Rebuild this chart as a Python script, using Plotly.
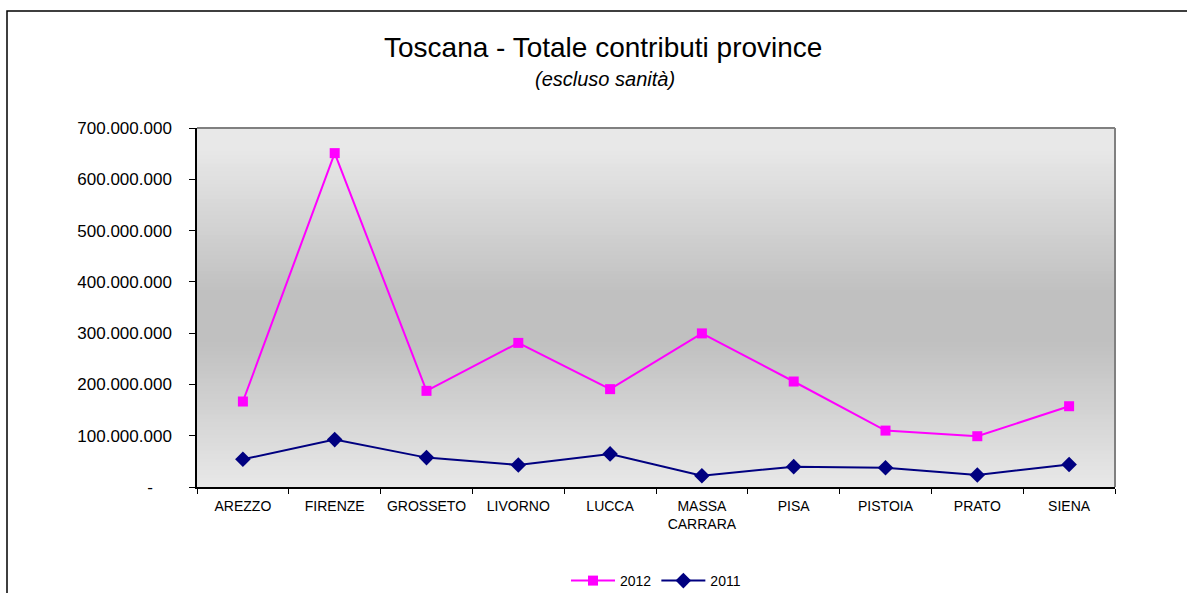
import plotly.graph_objects as go

provinces = ["AREZZO", "FIRENZE", "GROSSETO", "LIVORNO", "LUCCA",
             "MASSA<br>CARRARA", "PISA", "PISTOIA", "PRATO", "SIENA"]
values_2012 = [166.7e6, 651e6, 187.5e6, 281e6, 190.8e6, 299.5e6, 205.7e6, 110e6, 99e6, 157.5e6]
values_2011 = [54e6, 92.4e6, 57.3e6, 43e6, 64.5e6, 22e6, 39.7e6, 37.5e6, 23.5e6, 44e6]
y_tickvals = [0, 100e6, 200e6, 300e6, 400e6, 500e6, 600e6, 700e6]
y_ticktext = ["-" + "\u00a0" * 4, "100.000.000", "200.000.000", "300.000.000",
              "400.000.000", "500.000.000", "600.000.000", "700.000.000"]

FONT = "Liberation Sans, Arial, sans-serif"

fig = go.Figure()
fig.add_trace(go.Scatter(
    x=provinces, y=values_2012, name="2012", mode="lines+markers",
    line=dict(color="#FF00FF", width=2),
    marker=dict(symbol="square", size=10, color="#FF00FF"),
))
fig.add_trace(go.Scatter(
    x=provinces, y=values_2011, name="2011", mode="lines+markers",
    line=dict(color="#000080", width=2),
    marker=dict(symbol="diamond", size=12, color="#000080"),
))

# background gradient stripes (light - dark - light)
shapes = []
N = 90
for i in range(N):
    t0 = i / N
    t1 = (i + 1) / N
    t = (t0 + t1) / 2  # 0 = top, 1 = bottom
    d = abs(t - 0.53)
    f = max(0.0, d - 0.07) / 0.40
    f = min(1.0, f)
    c = int(round(192 + 40 * f))
    col = f"rgb({c},{c},{c})"
    shapes.append(dict(type="rect", xref="x domain", yref="y domain",
                       x0=0, x1=1, y0=1 - t1, y1=1 - t0 + 0.002,
                       fillcolor=col, line=dict(width=0), layer="below"))
# frame top and right in gray
shapes.append(dict(type="line", xref="x domain", yref="y domain",
                   x0=0, x1=1, y0=1, y1=1, line=dict(color="#808080", width=2)))
shapes.append(dict(type="line", xref="x domain", yref="y domain",
                   x0=1, x1=1, y0=0, y1=1, line=dict(color="#808080", width=2)))
# outer chart border
L, R, T, B = 197, 1115, 128, 487
W, H = 1187, 593
shapes.append(dict(type="rect", xref="paper", yref="paper",
                   x0=(7 - L) / (R - L), x1=(W + 20 - L) / (R - L),
                   y0=(B - (H + 20)) / (B - T), y1=(B - 11) / (B - T),
                   line=dict(color="black", width=1.5), fillcolor="rgba(0,0,0,0)",
                   layer="below"))

fig.update_layout(
    width=W, height=H,
    margin=dict(l=L, r=W - R, t=T, b=H - B, autoexpand=False),
    paper_bgcolor="white", plot_bgcolor="#e8e8e8",
    font=dict(family=FONT, color="black"),
    showlegend=True,
    legend=dict(orientation="h", x=0.5, xanchor="center",
                y=(B - 581) / (B - T), yanchor="middle",
                font=dict(size=14, family=FONT), itemwidth=44,
                bgcolor="rgba(0,0,0,0)", traceorder="normal"),
    shapes=shapes,
    annotations=[
        dict(text="Toscana - Totale contributi province", xref="paper", yref="paper",
             x=(603 - L) / (R - L), y=(B - 47) / (B - T), xanchor="center", yanchor="middle",
             showarrow=False, font=dict(size=28, family=FONT, color="black")),
        dict(text="<i>(escluso sanità)</i>", xref="paper", yref="paper",
             x=(605 - L) / (R - L), y=(B - 79) / (B - T), xanchor="center", yanchor="middle",
             showarrow=False, font=dict(size=20, family=FONT, color="black")),
    ],
)
fig.update_xaxes(
    type="category", range=[-0.5, 9.5], showline=True, linecolor="black", linewidth=1.5,
    ticks="outside", tickson="boundaries", ticklen=5, tickcolor="black",
    ticklabelstandoff=5,
    showgrid=False, zeroline=False, tickfont=dict(size=14, family=FONT),
    fixedrange=True,
)
fig.update_yaxes(
    range=[0, 700e6], tickvals=y_tickvals, ticktext=y_ticktext,
    showline=True, linecolor="black", linewidth=1.5,
    ticks="outside", ticklen=6, tickcolor="black", ticklabelstandoff=14,
    showgrid=False, zeroline=False, tickfont=dict(size=17, family=FONT),
    fixedrange=True,
)

fig.write_html("out.html", config={"displayModeBar": False},
               post_script="document.body.style.margin='0px';")
